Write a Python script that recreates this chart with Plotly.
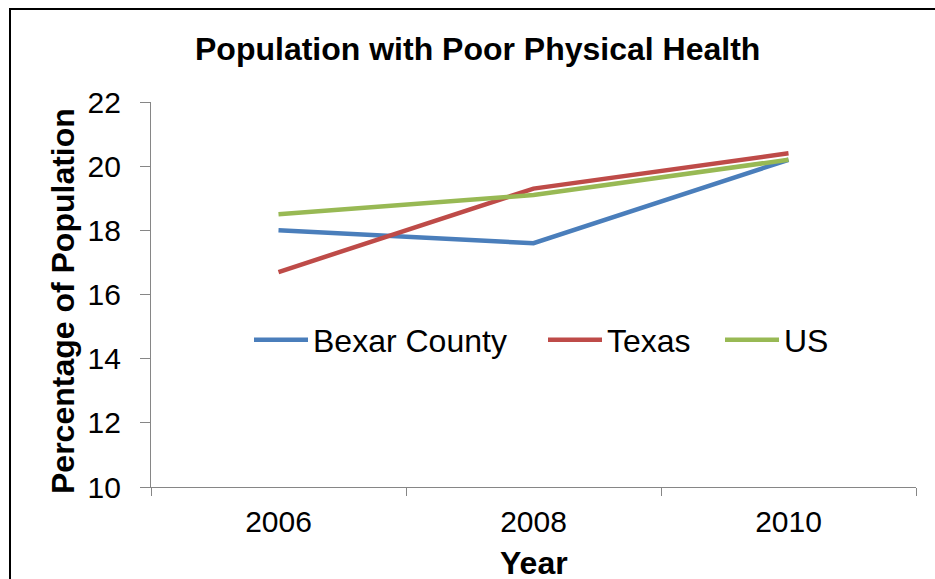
import plotly.graph_objects as go

years = ["2006", "2008", "2010"]
bexar = [18.0, 17.6, 20.2]
texas = [16.7, 19.3, 20.4]
us = [18.5, 19.1, 20.2]
series_names = ["Bexar County", "Texas", "US"]
series_colors = ["#4A7EBB", "#BE4B48", "#98B954"]
y_ticks = [10, 12, 14, 16, 18, 20, 22]

FONT = "Liberation Sans, Arial, sans-serif"

L, R, T, B = 151, 19, 102, 92
W, H = 935, 579
pw = W - L - R
ph = H - T - B

def px_x(p):
    return (p - L) / pw

def px_y(p):
    return (H - B - p) / ph

legend_ids = ["legend", "legend2", "legend3"]
legend_left_px = [249, 543, 720]

fig = go.Figure()
for name, vals, col, lg in zip(series_names, [bexar, texas, us], series_colors, legend_ids):
    fig.add_trace(go.Scatter(x=years, y=vals, name=name, mode="lines", legend=lg,
                             line=dict(color=col, width=4.5)))

legend_common = dict(orientation="h", yanchor="middle", xanchor="left",
                     bgcolor="rgba(0,0,0,0)", font=dict(size=32), itemwidth=54)
legends = {}
for lg, lx in zip(legend_ids, legend_left_px):
    legends[lg] = dict(legend_common, x=px_x(lx), y=px_y(340))

fig.update_layout(
    width=W, height=H,
    margin=dict(l=L, r=R, t=T, b=B),
    paper_bgcolor="white", plot_bgcolor="white",
    font=dict(family=FONT, size=31, color="black"),
    showlegend=True,
    xaxis=dict(type="category", range=[-0.5, 2.5], showline=True, linecolor="#868686",
               linewidth=1.3, ticks="outside", tickson="boundaries", ticklen=8,
               tickcolor="#868686", tickwidth=1.3, showgrid=False, zeroline=False,
               tickfont=dict(size=30), ticklabelstandoff=8, fixedrange=True),
    yaxis=dict(range=[10, 22], tickvals=y_ticks, showline=True, linecolor="#868686",
               linewidth=1.3, ticks="outside", ticklen=10, tickcolor="#868686",
               tickwidth=1.3, showgrid=False, zeroline=False, tickfont=dict(size=30),
               ticklabelstandoff=13, fixedrange=True),
    shapes=[dict(type="rect", xref="paper", yref="paper",
                 x0=px_x(10), x1=px_x(950), y0=px_y(600), y1=px_y(9),
                 line=dict(color="black", width=2), layer="above")],
    annotations=[
        dict(text="<b>Population with Poor Physical Health</b>", xref="paper", yref="paper",
             x=px_x(477.5), y=px_y(49), xanchor="center", yanchor="middle",
             showarrow=False, font=dict(size=32)),
        dict(text="<b>Year</b>", xref="paper", yref="paper",
             x=px_x(534), y=px_y(563), xanchor="center", yanchor="middle",
             showarrow=False, font=dict(size=32)),
        dict(text="<b>Percentage of Population</b>", xref="paper", yref="paper",
             x=px_x(63), y=px_y(301), xanchor="center", yanchor="middle",
             textangle=-90, showarrow=False, font=dict(size=32)),
    ],
    **legends,
)

fig.write_html("out.html", config={"displayModeBar": False})
